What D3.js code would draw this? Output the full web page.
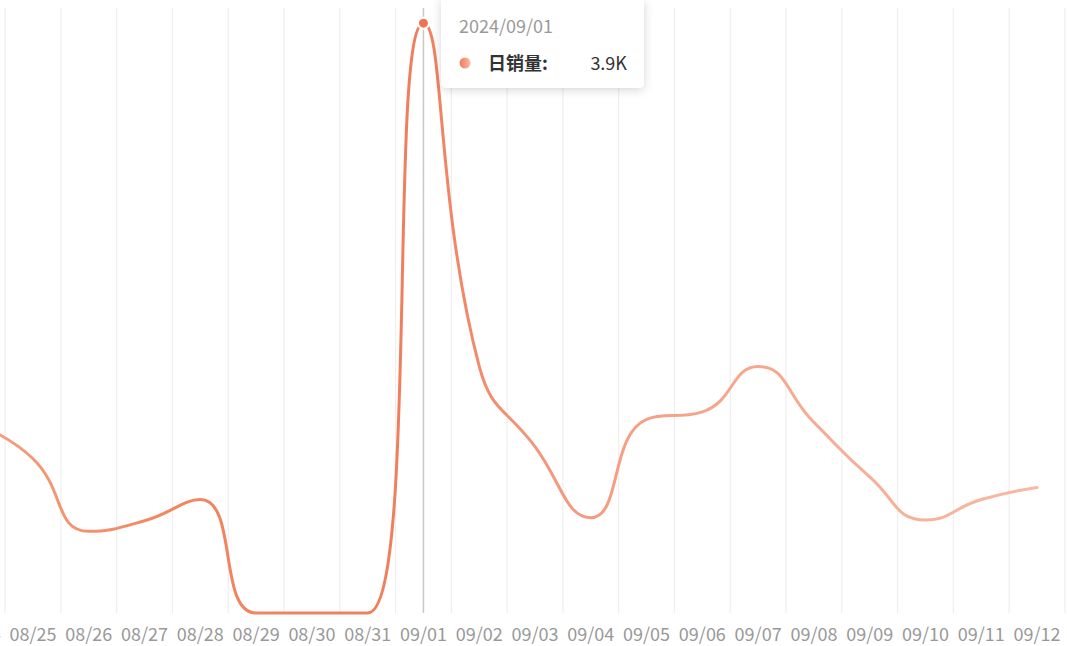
<!DOCTYPE html>
<html>
<head>
<meta charset="utf-8">
<script src="https://cdn.jsdelivr.net/npm/d3@7"></script>
<style>
html,body{margin:0;padding:0;background:#fff;overflow:hidden;}
svg{display:block;font-family:"Noto Sans CJK SC","Noto Sans",sans-serif;}
</style>
</head>
<body>
<svg id="chart" width="1067" height="646"></svg>
<script>
// ---- data ----
const dates = ["08/24","08/25","08/26","08/27","08/28","08/29","08/30","08/31","09/01","09/02","09/03","09/04","09/05","09/06","09/07","09/08","09/09","09/10","09/11","09/12"];
const sales = [1250,1020,540,610,750,0,0,0,3900,1630,1100,630,1280,1330,1630,1260,900,615,750,830];
const seriesName = "日销量";
const hoverIndex = 8;
const hoverFullDate = "2024/09/01";
const hoverLabel = "3.9K";
const yMax = 4000;

// ---- layout ----
const W = 1067, H = 646;
const bandW = 55.78;
const firstCenter = 33 - bandW; // 08/24 sits just off-screen
const plotTop = 8, plotBottom = 613;

const svg = d3.select("#chart");

const x = d3.scaleBand()
  .domain(dates)
  .range([firstCenter - bandW/2, firstCenter - bandW/2 + bandW*dates.length])
  .padding(0);
const y = d3.scaleLinear().domain([0, yMax]).range([plotBottom, plotTop]);
const cx = d => x(d) + x.bandwidth()/2;

// gradient for line
const defs = svg.append("defs");
const lg = defs.append("linearGradient").attr("id","lineGrad")
  .attr("gradientUnits","userSpaceOnUse").attr("x1",0).attr("x2",W).attr("y1",0).attr("y2",0);
[[0,"#f59c7c"],[0.16,"#f2865f"],[0.39,"#f07e5c"],[0.5,"#f4967a"],[0.63,"#f6a387"],[0.97,"#f9b8a3"]]
  .forEach(([o,c])=>lg.append("stop").attr("offset",o).attr("stop-color",c));
const mg = defs.append("linearGradient").attr("id","markGrad").attr("x1",0).attr("x2",1).attr("y1",0).attr("y2",0);
mg.append("stop").attr("offset",0).attr("stop-color","#f07a58");
mg.append("stop").attr("offset",1).attr("stop-color","#f9bba6");
const f = defs.append("filter").attr("id","shadow").attr("x","-20%").attr("y","-40%").attr("width","140%").attr("height","180%");
f.append("feDropShadow").attr("dx",0).attr("dy",2).attr("stdDeviation",5).attr("flood-color","#000").attr("flood-opacity",0.16);

// ---- vertical split lines at category boundaries ----
const bounds = dates.map(d => x(d)).concat([x(dates[dates.length-1]) + x.bandwidth()]);
svg.append("g").selectAll("line").data(bounds).join("line")
  .attr("x1", d=>d).attr("x2", d=>d).attr("y1", plotTop).attr("y2", plotBottom)
  .attr("stroke","#efefef").attr("stroke-width",1.2);

// ---- x axis ----
const xAxis = d3.axisBottom(x).tickSize(0).tickPadding(0);
const ax = svg.append("g").attr("transform",`translate(0,${plotBottom})`).call(xAxis);
ax.select(".domain").remove();
ax.selectAll("text").attr("fill","#999").attr("font-size","18px")
  .attr("font-family",'"Noto Sans CJK SC","Noto Sans",sans-serif')
  .attr("dy",null).attr("y",28);

// ---- axis pointer ----
svg.append("line").attr("x1",cx(dates[hoverIndex])).attr("x2",cx(dates[hoverIndex]))
  .attr("y1",plotTop).attr("y2",plotBottom).attr("stroke","#c8c8c8").attr("stroke-width",1.5);

// ---- ECharts-like smooth curve ----
function SmoothCurve(context, smooth){ this._context = context; this._smooth = smooth; }
SmoothCurve.prototype = {
  areaStart(){}, areaEnd(){},
  lineStart(){ this._pts = []; },
  point(px,py){ this._pts.push([+px,+py]); },
  lineEnd(){
    const p = this._pts, ctx = this._context, s = this._smooth, n = p.length;
    if(!n) return;
    let cpx0, cpy0, cpx1, cpy1, prevX, prevY;
    for(let i=0;i<n;i++){
      const X = p[i][0], Y = p[i][1];
      if(i===0){ ctx.moveTo(X,Y); cpx0=X; cpy0=Y; }
      else{
        let nextCpx0, nextCpy0;
        if(i===n-1){ cpx1=X; cpy1=Y; nextCpx0=X; nextCpy0=Y; }
        else{
          const nextX=p[i+1][0], nextY=p[i+1][1];
          let vx=nextX-prevX, vy=nextY-prevY;
          const dx0=X-prevX, dy0=Y-prevY, dx1=nextX-X, dy1=nextY-Y;
          const lenPrev=Math.sqrt(dx0*dx0+dy0*dy0), lenNext=Math.sqrt(dx1*dx1+dy1*dy1);
          const ratio=lenNext/(lenNext+lenPrev);
          nextCpx0 = X + vx*s*ratio; nextCpy0 = Y + vy*s*ratio;
          nextCpx0=Math.min(nextCpx0,Math.max(nextX,X)); nextCpy0=Math.min(nextCpy0,Math.max(nextY,Y));
          nextCpx0=Math.max(nextCpx0,Math.min(nextX,X)); nextCpy0=Math.max(nextCpy0,Math.min(nextY,Y));
          vx=nextCpx0-X; vy=nextCpy0-Y;
          cpx1 = X - vx*lenPrev/lenNext; cpy1 = Y - vy*lenPrev/lenNext;
          cpx1=Math.min(cpx1,Math.max(prevX,X)); cpy1=Math.min(cpy1,Math.max(prevY,Y));
          cpx1=Math.max(cpx1,Math.min(prevX,X)); cpy1=Math.max(cpy1,Math.min(prevY,Y));
          vx=X-cpx1; vy=Y-cpy1;
          nextCpx0 = X + vx*lenNext/lenPrev; nextCpy0 = Y + vy*lenNext/lenPrev;
        }
        ctx.bezierCurveTo(cpx0,cpy0,cpx1,cpy1,X,Y);
        cpx0=nextCpx0; cpy0=nextCpy0;
      }
      prevX=X; prevY=Y;
    }
  }
};
const smoothCurve = ctx => new SmoothCurve(ctx, 0.5);

const line = d3.line().x((d,i)=>cx(dates[i])).y(d=>y(d)).curve(smoothCurve);
svg.append("path").datum(sales).attr("d",line)
  .attr("fill","none").attr("stroke","url(#lineGrad)").attr("stroke-width",3)
  .attr("stroke-linejoin","round").attr("stroke-linecap","round");

// hover point
svg.append("circle").attr("cx",cx(dates[hoverIndex])).attr("cy",y(sales[hoverIndex])).attr("r",5.5)
  .attr("fill","#f07352").attr("stroke","#fff").attr("stroke-width",2);

// ---- tooltip ----
const tt = svg.append("g").attr("transform","translate(441,-2)");
tt.append("rect").attr("width",203).attr("height",90).attr("rx",5)
  .attr("fill","#fff").attr("filter","url(#shadow)");
tt.append("text").attr("x",18).attr("y",35).attr("fill","#9a9a9a").attr("font-size","18px").text(hoverFullDate);
tt.append("circle").attr("cx",24).attr("cy",65).attr("r",5.5).attr("fill","url(#markGrad)");
tt.append("text").attr("x",47).attr("y",72).attr("fill","#333").attr("font-size","18px").attr("font-weight","bold").text(seriesName + ":");
tt.append("text").attr("x",186).attr("y",72).attr("text-anchor","end").attr("fill","#333").attr("font-size","18px").text(hoverLabel);
</script>
</body>
</html>
